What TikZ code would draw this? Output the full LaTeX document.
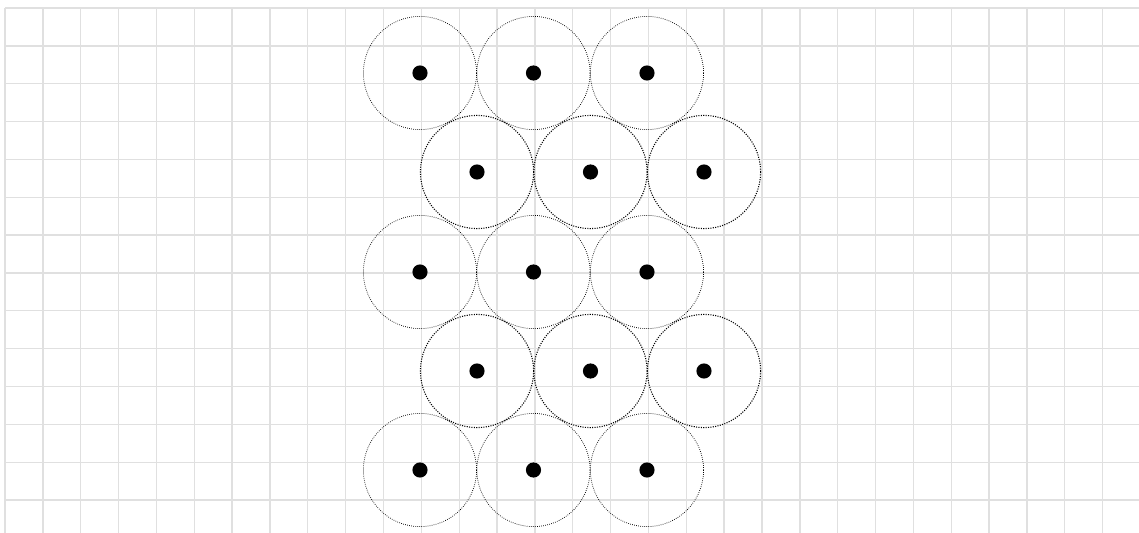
\documentclass[tikz,border=0pt]{standalone}
\begin{document}
\begin{tikzpicture}[x=0.026420cm,y=-0.026420cm,
  gridline/.style={draw=black!12,line width=1pt},
  ring/.style={circle,draw=black,densely dotted,line width=0.55pt,minimum size=2.99cm,inner sep=0pt},
  ringb/.style={ring,line width=0.8pt},
  dot/.style={circle,fill=black,minimum size=0.4cm,inner sep=0pt}]
\useasboundingbox (0,0) rectangle (1139,532);
\begin{scope}
\clip (0,0) rectangle (1139,532);
\foreach \i in {0,...,30} {\draw[gridline] ({5+37.85*\i},8) -- ({5+37.85*\i},540);}
\foreach \j in {0,...,14} {\draw[gridline] (5,{8+37.85*\j}) -- (1150,{8+37.85*\j});}
\end{scope}
% rows
\foreach \r/\y/\xo/\st in {1/73/420/ring,2/172/477/ringb,3/272/420/ring,4/371/477/ringb,5/470/420/ring} {
  \foreach \c in {1,2,3} {
    \node[\st] (r\r c\c) at ({\xo+113.5*(\c-1)},\y) {};
    \node[dot] (d\r c\c) at (r\r c\c.center) {};
  }
}
\end{tikzpicture}
\end{document}
